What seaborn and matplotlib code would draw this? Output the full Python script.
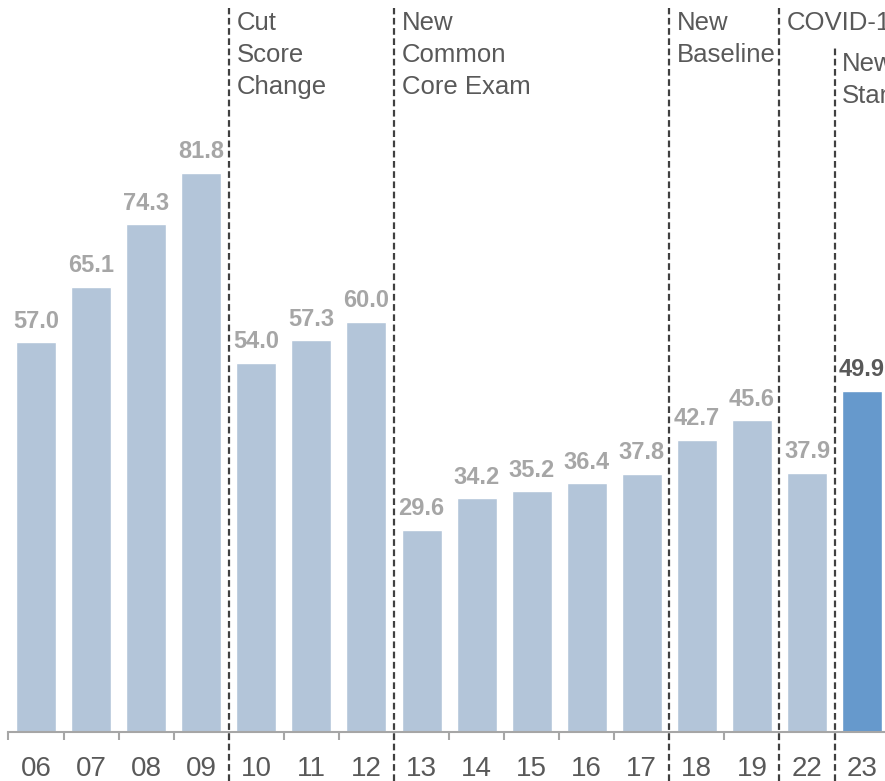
import matplotlib
matplotlib.use("Agg")
import matplotlib.pyplot as plt
import seaborn as sns
import pandas as pd

years = ["06", "07", "08", "09", "10", "11", "12", "13", "14", "15", "16", "17", "18", "19", "22", "23"]
values = [57.0, 65.1, 74.3, 81.8, 54.0, 57.3, 60.0, 29.6, 34.2, 35.2, 36.4, 37.8, 42.7, 45.6, 37.9, 49.9]
break_after = ["09", "12", "17", "19", "22"]
break_labels = ["Cut\nScore\nChange", "New\nCommon\nCore Exam", "New\nBaseline", "COVID-19", "New\nStandards"]

sns.set_theme(style="white")
plt.rcParams['font.family'] = ['Liberation Sans', 'DejaVu Sans']

W, H = 885, 781
fig = plt.figure(figsize=(W / 100, H / 100), dpi=100)
left_px, right_px = 8.5, 889.6
base_px = 732
ax = fig.add_axes([left_px / W, (H - base_px) / H, (right_px - left_px) / W, base_px / H])

df = pd.DataFrame({"year": years, "value": values})
light = "#b3c5d9"
dark = "#6699cc"
palette = {y: (dark if y == years[-1] else light) for y in years}
sns.barplot(data=df, x="year", y="value", hue="year", palette=palette, legend=False,
            width=0.726, ax=ax, saturation=1)

ax.set_xlim(-0.5, len(years) - 0.5)
ax.set_ylim(0, base_px / 6.834)

for i, (patch, v) in enumerate(zip(ax.patches, values)):
    col = "#595959" if i == len(values) - 1 else "#a6a6a6"
    ax.annotate(f"{v:.1f}", (patch.get_x() + patch.get_width() / 2, v),
                xytext=(0, 7), textcoords="offset points", ha="center", va="bottom",
                fontsize=17, fontweight="bold", color=col)

for s in ["top", "right", "left"]:
    ax.spines[s].set_visible(False)
ax.spines["bottom"].set_color("#a6a6a6")
ax.spines["bottom"].set_linewidth(1.5)
ax.set_yticks([])
ax.set_xlabel("")
ax.set_ylabel("")
ax.tick_params(axis="x", which="major", length=0, labelsize=20, labelcolor="#595959", pad=17)
ax.set_xticks([i - 0.5 for i in range(len(years) + 1)], minor=True)
ax.tick_params(axis="x", which="minor", bottom=True, length=6, width=1.5, color="#a6a6a6",
               direction="out")

ymin_ax = -(H - base_px) / base_px
for j, (yr, lab) in enumerate(zip(break_after, break_labels)):
    xpos = years.index(yr) + 0.5
    last = j == len(break_after) - 1
    top_px = 45 if last else 8
    ymax_ax = (base_px - top_px) / base_px
    ax.axvline(xpos, ymin=ymin_ax, ymax=ymax_ax, color="#404040", linestyle=(0, (3, 1.6)),
               linewidth=1.6, clip_on=False)
    ax.annotate(lab, xy=(xpos, ymax_ax), xycoords=("data", "axes fraction"),
                xytext=(5.5, -5 if last else -2), textcoords="offset points", ha="left", va="top",
                fontsize=18.5, color="#595959", linespacing=1.42, annotation_clip=False)

fig.savefig("out.png", dpi=100)
